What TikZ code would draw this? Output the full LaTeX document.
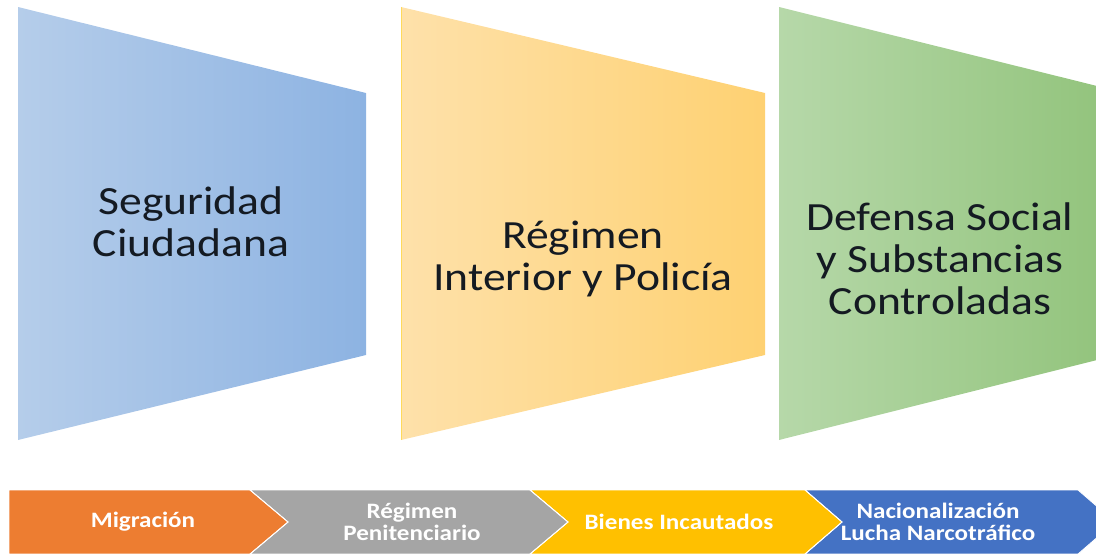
\documentclass[tikz,border=0pt]{standalone}
\usepackage{fontspec}
\setmainfont[FakeStretch=1.14]{Carlito}
\definecolor{blueL}{HTML}{B5CDEA}
\definecolor{blueR}{HTML}{8DB3E2}
\definecolor{yelL}{HTML}{FEE1AA}
\definecolor{yelR}{HTML}{FED172}
\definecolor{grnL}{HTML}{B6D8A9}
\definecolor{grnR}{HTML}{93C47D}
\definecolor{txtdark}{HTML}{141A22}
\definecolor{bandorange}{HTML}{ED7D31}
\definecolor{bandgray}{HTML}{A5A5A5}
\definecolor{bandyellow}{HTML}{FFC000}
\definecolor{bandblue}{HTML}{4472C4}
\tikzset{
  bigtext/.style={align=center,text=txtdark,font=\fontsize{40}{42}\selectfont},
  bandtext/.style={align=center,text=white,font=\bfseries\fontsize{22}{22}\selectfont},
  band/.style={draw=white,line width=0.8pt,line join=round}
}

\begin{document}
\begin{tikzpicture}[x=1pt,y=-1pt]
\clip (0,0) rectangle (1096,554);
% upper blocks
\shade[left color=blueL,right color=blueR] (18,7) -- (366,93) -- (366,355) -- (18,440) -- cycle;
\shade[left color=yelL,right color=yelR] (401,7) -- (765,93) -- (765,355) -- (401,440) -- cycle;
\draw[yelR!80!yellow,line width=1pt] (401,7) -- (401,440);
\shade[left color=grnL,right color=grnR] (779,7) -- (1101,87) -- (1101,359) -- (779,440) -- cycle;
\node[bigtext] (seg) at (191,222) {Seguridad\\Ciudadana};
\node[bigtext] (reg) at (583,259) {Régimen\\Interior y Policía};
\node[bigtext] (def) at (940,259) {Defensa Social\\y Substancias\\Controladas};
% chevron band
\fill[band,fill=bandblue] (805,490) -- (1078,490) -- (1115,522) -- (1078,554) -- (805,554) -- (842,522) -- cycle;
\fill[band,fill=bandyellow] (530,490) -- (805,490) -- (842,522) -- (805,554) -- (530,554) -- (568,522) -- cycle;
\fill[band,fill=bandgray] (250,490) -- (530,490) -- (568,522) -- (530,554) -- (250,554) -- (288,522) -- cycle;
\fill[band,fill=bandorange] (9,490) -- (250,490) -- (288,522) -- (250,554) -- (9,554) -- cycle;
\draw[band] (805,490) -- (842,522) -- (805,554);
\draw[band] (530,490) -- (568,522) -- (530,554);
\draw[band] (250,490) -- (288,522) -- (250,554);
\node[bandtext] (mig) at (143,522) {Migración};
\node[bandtext] (pen) at (412,522) {Régimen\\Penitenciario};
\node[bandtext] (bie) at (679,522) {Bienes Incautados};
\node[bandtext] (nac) at (938,522) {Nacionalización\\Lucha Narcotráfico};
\end{tikzpicture}
\end{document}
